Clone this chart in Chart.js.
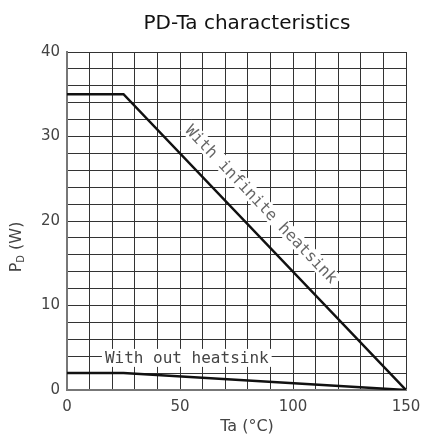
<!DOCTYPE html>
<html>
<head>
<meta charset="utf-8">
<script src="https://cdn.jsdelivr.net/npm/chart.js@4"></script>
<style>
  html, body { margin: 0; padding: 0; background: #fff; }
  #wrap { width: 421px; height: 438px; }
</style>
</head>
<body>
<div id="wrap"><canvas id="pdChart" width="421" height="438"></canvas></div>
<script>
// ambient temperature (deg C) and power dissipation (W)
const infiniteTa = [0, 25, 150];
const infinitePd = [35, 35, 0];
const noSinkTa = [0, 25, 150];
const noSinkPd = [2, 2, 0];

const xTickLabels = [0, 50, 100, 150];
const yTickLabels = [0, 10, 20, 30, 40];

function toPoints(xs, ys) {
    return xs.map((x, i) => ({ x: x, y: ys[i] }));
}

// titles sit a little right of the plot centre in the datasheet, and the
// y title needs a subscript, so they are drawn here
const sheetTitles = {
    id: 'sheetTitles',
    afterDraw(chart) {
        const ctx = chart.ctx;
        ctx.save();
        ctx.textBaseline = 'middle';
        ctx.textAlign = 'center';

        ctx.fillStyle = '#111';
        ctx.font = '20px "DejaVu Sans"';
        ctx.fillText('PD-Ta characteristics', 247, 24);

        ctx.fillStyle = '#444';
        ctx.font = '16px "DejaVu Sans"';
        ctx.fillText('Ta (°C)', 247, 427);

        // Pd (W), rotated
        ctx.translate(17, 247);
        ctx.rotate(-Math.PI / 2);
        ctx.textAlign = 'left';
        const big = '16px "DejaVu Sans"';
        const small = '10px "DejaVu Sans"';
        ctx.font = big;
        const wP = ctx.measureText('P').width;
        const wW = ctx.measureText(' (W)').width;
        ctx.font = small;
        const wD = ctx.measureText('D').width;
        let x = -(wP + wD + wW) / 2;
        ctx.font = big;
        ctx.fillText('P', x, 0);
        x += wP;
        ctx.font = small;
        ctx.fillText('D', x, 4);
        x += wD;
        ctx.font = big;
        ctx.fillText(' (W)', x, 0);
        ctx.restore();
    }
};

// text labels written on the plot, like the datasheet
const curveLabels = {
    id: 'curveLabels',
    afterDatasetsDraw(chart) {
        const ctx = chart.ctx;
        const xs = chart.scales.x;
        const ys = chart.scales.y;
        ctx.save();
        ctx.font = '16px "DejaVu Sans Mono"';
        ctx.textAlign = 'center';
        ctx.textBaseline = 'middle';

        // "With infinite heatsink" runs along the sloped part of the curve
        const ang = Math.atan2(ys.getPixelForValue(0) - ys.getPixelForValue(35),
                               xs.getPixelForValue(150) - xs.getPixelForValue(25));
        let cx = xs.getPixelForValue(86);
        let cy = ys.getPixelForValue(22);
        ctx.translate(cx, cy);
        ctx.rotate(ang);
        let txt = 'With infinite heatsink';
        let w = ctx.measureText(txt).width;
        ctx.fillStyle = '#fff';
        ctx.fillRect(-w / 2 - 3, -8, w + 6, 16);
        ctx.fillStyle = '#666';
        ctx.fillText(txt, 0, 1);
        ctx.setTransform(1, 0, 0, 1, 0, 0);

        txt = 'With out heatsink';
        w = ctx.measureText(txt).width;
        cx = xs.getPixelForValue(53);
        cy = ys.getPixelForValue(3.8);
        ctx.fillStyle = '#fff';
        ctx.fillRect(cx - w / 2 - 3, cy - 9, w + 6, 18);
        ctx.fillStyle = '#444';
        ctx.fillText(txt, cx, cy + 1);
        ctx.restore();
    }
};

const ctx = document.getElementById('pdChart').getContext('2d');
const pdChart = new Chart(ctx, {
    type: 'line',
    data: {
        datasets: [{
            label: 'With infinite heatsink',
            data: toPoints(infiniteTa, infinitePd),
            borderColor: '#111',
            borderWidth: 2.5,
            pointRadius: 0,
            tension: 0
        }, {
            label: 'With out heatsink',
            data: toPoints(noSinkTa, noSinkPd),
            borderColor: '#111',
            borderWidth: 2.5,
            pointRadius: 0,
            tension: 0
        }]
    },
    options: {
        responsive: false,
        animation: false,
        layout: { padding: { top: 52, right: 15, bottom: 0, left: 0 } },
        plugins: {
            legend: { display: false },
            tooltip: { enabled: false },
            title: { display: false }
        },
        scales: {
            x: {
                type: 'linear',
                min: 0,
                max: 150,
                afterFit(scale) {
                    scale.height = 48;
                    scale.paddingLeft = 0;
                    scale.paddingRight = 0;
                },
                border: { color: '#777', width: 2 },
                grid: { color: '#333', lineWidth: 1, drawTicks: false },
                ticks: {
                    stepSize: 10,
                    autoSkip: false,
                    maxRotation: 0,
                    padding: 8,
                    color: '#444',
                    font: { family: 'DejaVu Sans', size: 15 },
                    callback: v => xTickLabels.includes(v) ? String(v) : ''
                }
            },
            y: {
                type: 'linear',
                min: 0,
                max: 40,
                afterFit(scale) {
                    scale.width = 67;
                    scale.paddingTop = 0;
                    scale.paddingBottom = 0;
                },
                border: { color: '#777', width: 2 },
                grid: { color: '#333', lineWidth: 1, drawTicks: false },
                ticks: {
                    stepSize: 2,
                    autoSkip: false,
                    padding: 7,
                    color: '#444',
                    font: { family: 'DejaVu Sans', size: 15 },
                    callback: v => yTickLabels.includes(v) ? String(v) : ''
                }
            }
        }
    },
    plugins: [curveLabels, sheetTitles]
});
</script>
</body>
</html>
